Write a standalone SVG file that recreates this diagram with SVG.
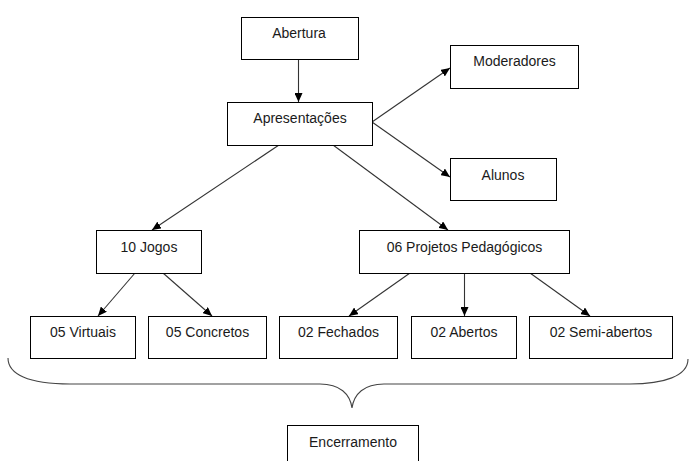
<svg xmlns="http://www.w3.org/2000/svg" width="689" height="461" viewBox="0 0 689 461">
<style>
.box{fill:#fff;stroke:#000;stroke-width:1}
.lbl{font-family:"Liberation Sans",Arial,sans-serif;font-size:14px;fill:#1a1a1a;text-anchor:middle}
.edge{stroke:#333;stroke-width:1.1;fill:none;marker-end:url(#ah)}
</style>
<defs>
<marker id="ah" markerUnits="userSpaceOnUse" markerWidth="10" markerHeight="8" refX="9" refY="4" orient="auto">
<path d="M0,0 L9,4 L0,8 z" fill="#000"/>
</marker>
</defs>
<rect width="689" height="461" fill="#fff"/>
<g id="connectors">
<line class="edge" x1="298.5" y1="59" x2="298.5" y2="102"/>
<line class="edge" x1="372" y1="122" x2="450" y2="68"/>
<line class="edge" x1="372" y1="122" x2="450" y2="177"/>
<line class="edge" x1="279" y1="145" x2="152" y2="230"/>
<line class="edge" x1="333" y1="145" x2="448" y2="230"/>
<line class="edge" x1="135" y1="273" x2="98" y2="316"/>
<line class="edge" x1="163" y1="273" x2="212" y2="316"/>
<line class="edge" x1="410" y1="273" x2="349" y2="316"/>
<line class="edge" x1="464.5" y1="273" x2="464.5" y2="316"/>
<line class="edge" x1="530" y1="273" x2="590" y2="316"/>
<path id="brace" d="M8,358 C8,374 28,384 70,384 L320,384 C340,384 350,394 352,408 C354,394 364,384 384,384 L630,384 C664,384 688,376 688,359" fill="none" stroke="#444" stroke-width="1.1"/>
</g>
<g id="abertura"><rect class="box" x="241.5" y="17.5" width="117" height="42"/><text class="lbl" x="299" y="38">Abertura</text></g>
<g id="apresentacoes"><rect class="box" x="227.5" y="102.5" width="145" height="43"/><text class="lbl" x="300" y="123">Apresentações</text></g>
<g id="moderadores"><rect class="box" x="450.5" y="45.5" width="128" height="43"/><text class="lbl" x="514.5" y="66">Moderadores</text></g>
<g id="alunos"><rect class="box" x="450.5" y="158.5" width="106" height="42"/><text class="lbl" x="503" y="180">Alunos</text></g>
<g id="jogos"><rect class="box" x="96.5" y="230.5" width="105" height="43"/><text class="lbl" x="149" y="252">10 Jogos</text></g>
<g id="projetos"><rect class="box" x="359.5" y="230.5" width="210" height="43"/><text class="lbl" x="464.5" y="252">06 Projetos Pedagógicos</text></g>
<g id="virtuais"><rect class="box" x="30.5" y="316.5" width="105" height="42"/><text class="lbl" x="83" y="337">05 Virtuais</text></g>
<g id="concretos"><rect class="box" x="148.5" y="316.5" width="118" height="42"/><text class="lbl" x="207.5" y="337">05 Concretos</text></g>
<g id="fechados"><rect class="box" x="279.5" y="316.5" width="118" height="42"/><text class="lbl" x="338.5" y="337">02 Fechados</text></g>
<g id="abertos"><rect class="box" x="411.5" y="316.5" width="105" height="42"/><text class="lbl" x="464" y="337">02 Abertos</text></g>
<g id="semiabertos"><rect class="box" x="529.5" y="316.5" width="143" height="42"/><text class="lbl" x="601" y="337">02 Semi-abertos</text></g>
<g id="encerramento"><rect class="box" x="287.5" y="425.5" width="131" height="45"/><text class="lbl" x="353" y="447">Encerramento</text></g>
</svg>
